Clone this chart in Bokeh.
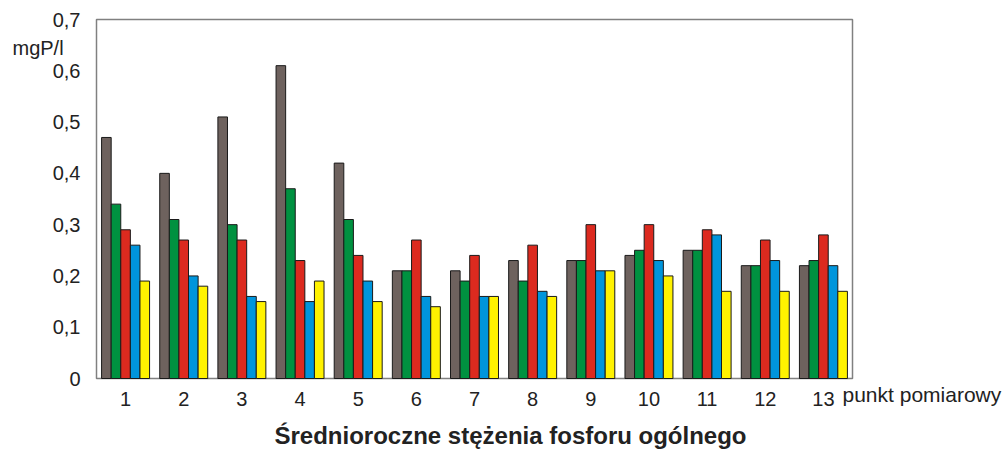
from bokeh.plotting import figure
from bokeh.models import ColumnDataSource, FixedTicker, Label, Range1d
from bokeh.embed import file_html
from bokeh.resources import INLINE

points = ["1", "2", "3", "4", "5", "6", "7", "8", "9", "10", "11", "12", "13"]
s1 = [0.47, 0.40, 0.51, 0.61, 0.42, 0.21, 0.21, 0.23, 0.23, 0.24, 0.25, 0.22, 0.22]
s2 = [0.34, 0.31, 0.30, 0.37, 0.31, 0.21, 0.19, 0.19, 0.23, 0.25, 0.25, 0.22, 0.23]
s3 = [0.29, 0.27, 0.27, 0.23, 0.24, 0.27, 0.24, 0.26, 0.30, 0.30, 0.29, 0.27, 0.28]
s4 = [0.26, 0.20, 0.16, 0.15, 0.19, 0.16, 0.16, 0.17, 0.21, 0.23, 0.28, 0.23, 0.22]
s5 = [0.19, 0.18, 0.15, 0.19, 0.15, 0.14, 0.16, 0.16, 0.21, 0.20, 0.17, 0.17, 0.17]
series = [s1, s2, s3, s4, s5]
colors = ["#6e625e", "#009140", "#dc2a1f", "#0095dc", "#fff200"]
y_ticks = [0, 0.1, 0.2, 0.3, 0.4, 0.5, 0.6, 0.7]
y_labels = ["0", "0,1", "0,2", "0,3", "0,4", "0,5", "0,6", "0,7"]
y_unit = "mgP/l"
x_name = "punkt pomiarowy"
title = "Średnioroczne stężenia fosforu ogólnego"

FONT = "Liberation Sans"

# layout (pixels on the canvas)
W, H = 1006, 453
BOX_L, BOX_R, BOX_T, BOX_B = 96, 852, 19, 378
n = len(points)
xpx = (BOX_R - BOX_L) / n          # pixels per category
ypx = (BOX_B - BOX_T) / 0.7        # pixels per unit
x_start = 0.5 - BOX_L / xpx
x_end = 0.5 + (W - BOX_L) / xpx
y_start = -(H - BOX_B) / ypx
y_end = BOX_B / ypx

p = figure(width=W, height=H, output_backend="svg", toolbar_location=None,
           x_range=Range1d(x_start, x_end), y_range=Range1d(y_start, y_end),
           min_border=0, min_border_left=0, min_border_right=0,
           min_border_top=0, min_border_bottom=0)
p.outline_line_color = None
p.grid.visible = False
p.background_fill_color = "white"
p.border_fill_color = "white"

# plot box
p.quad(left=[0.5], right=[n + 0.5], bottom=[0], top=[0.7], fill_color=None,
       line_color="#808080", line_width=1.5)

bw = 0.165
xs = list(range(1, n + 1))
for i, (vals, c) in enumerate(zip(series, colors)):
    off = (i - 2) * bw
    src = ColumnDataSource(dict(x=[x + off for x in xs], top=vals))
    p.vbar(x="x", top="top", width=bw, bottom=0, source=src,
           fill_color=c, line_color="#1a1a1a", line_width=1)

p.yaxis.ticker = FixedTicker(ticks=y_ticks)
p.yaxis.major_label_overrides = {t: l for t, l in zip(y_ticks, y_labels)}
p.xaxis.ticker = FixedTicker(ticks=xs)
p.xaxis.major_label_overrides = {x: l for x, l in zip(xs, points)}
p.yaxis.fixed_location = 0.5
p.xaxis.fixed_location = 0
for ax in (p.xaxis, p.yaxis):
    ax.axis_line_color = None
    ax.major_tick_line_color = None
    ax.minor_tick_line_color = None
    ax.major_label_text_font = FONT
    ax.major_label_text_font_size = "20px"
    ax.major_label_text_color = "#222222"
p.yaxis.major_label_standoff = 10
p.xaxis.major_label_standoff = 7

p.add_layout(Label(x=0.5 - (BOX_L - 12) / xpx, y=(BOX_B - 47) / ypx, text=y_unit,
                   text_font=FONT, text_font_size="20px", text_color="#222222",
                   text_baseline="middle", text_align="left"))
p.add_layout(Label(x=0.5 + (842 - BOX_L) / xpx, y=-(394 - BOX_B) / ypx, text=x_name,
                   text_font=FONT, text_font_size="21px", text_color="#222222",
                   text_baseline="middle", text_align="left"))
p.add_layout(Label(x=0.5 + (510 - BOX_L) / xpx, y=-(435 - BOX_B) / ypx, text=title,
                   text_font=FONT, text_font_size="24px", text_font_style="bold",
                   text_color="#222222", text_baseline="middle", text_align="center"))

open("out.html", "w").write(file_html(p, INLINE))
